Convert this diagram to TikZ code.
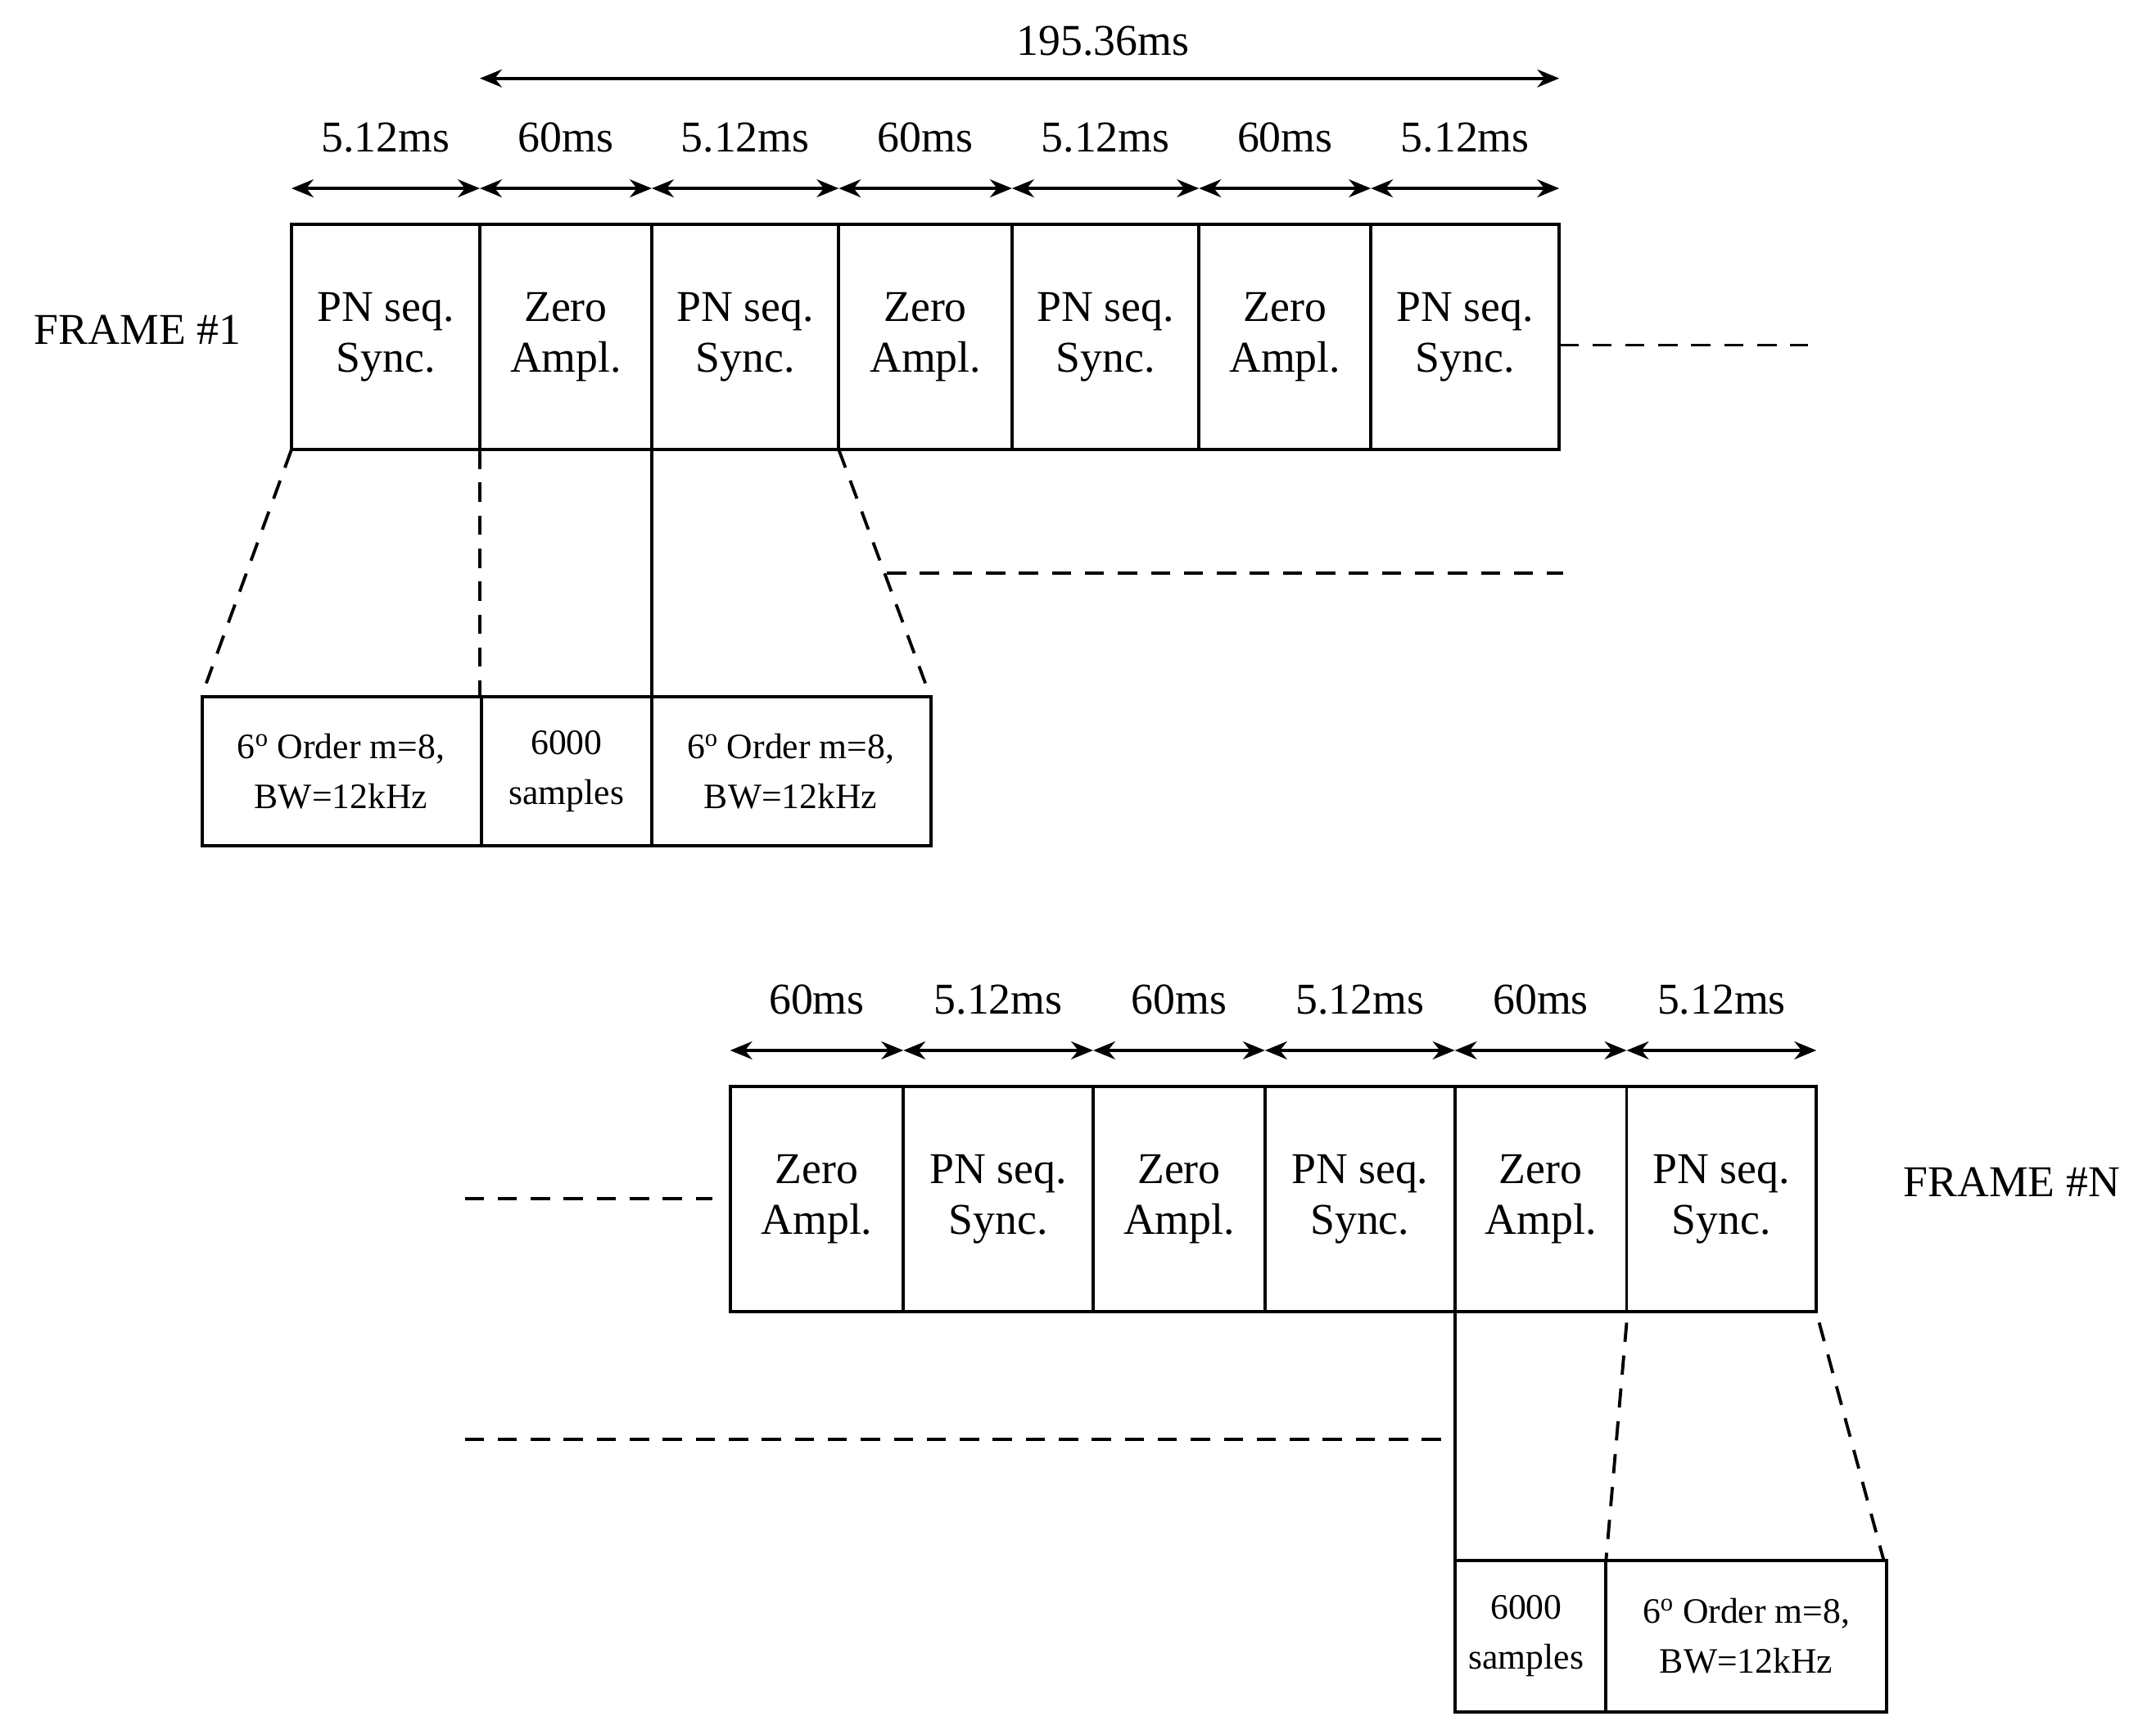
\documentclass[tikz,border=0pt]{standalone}
\usepackage{fontspec}
\setmainfont{Liberation Serif}
\usetikzlibrary{arrows.meta}
\begin{document}
\begin{tikzpicture}[x=1pt,y=-1pt,
  lw/.style={line width=2.3pt},
  cell/.style={lw,draw},
  dsh/.style={lw,dash pattern=on 14pt off 10pt},
  dim/.style={lw,{Stealth[length=16pt,width=13pt]}-{Stealth[length=16pt,width=13pt]}},
  txt/.style={font=\fontsize{32}{37}\selectfont,align=center},
  stxt/.style={font=\fontsize{26}{36}\selectfont,align=center}]
\useasboundingbox (0,0) rectangle (1568,1258);
% Frame 1
\def\ya{163}\def\yb{327}
\foreach \a/\b/\t [count=\i] in {212/349/{PN seq.\\Sync.},349/474/{Zero\\Ampl.},474/610/{PN seq.\\Sync.},610/736/{Zero\\Ampl.},736/872/{PN seq.\\Sync.},872/997/{Zero\\Ampl.},997/1134/{PN seq.\\Sync.}}{
  \draw[cell] (\a,\ya) rectangle (\b,\yb);
  \node[txt] (f1c\i) at ({(\a+\b)/2},245) {\t};
}
\foreach \a/\b/\t [count=\i] in {212/349/5.12ms,349/474/60ms,474/610/5.12ms,610/736/60ms,736/872/5.12ms,872/997/60ms,997/1134/5.12ms}{
  \coordinate (l\i) at (\a,137); \coordinate (r\i) at (\b,137);
  \draw[dim] (l\i) -- (r\i);
  \node[txt] (f1d\i) at ({(\a+\b)/2},100) {\t};
}
\coordinate (tl) at (349,57); \coordinate (tr) at (1134,57);
\draw[dim] (tl) -- (tr);
\node[txt] (tot) at (802,30) {195.36ms};
\node[txt] (fr1) at (100,240) {FRAME \#1};
\draw[dsh] (1134,251) -- (1315,251);
\draw[dsh] (212,327) -- (150,497);
\draw[dsh] (349,327) -- (349,507);
\draw[lw] (474,327) -- (474,507);
\draw[dsh] (610,327) -- (673,497);
\draw[dsh] (645,417) -- (1137,417);
\draw[cell] (147,507) rectangle (350,615);
\draw[cell] (350,507) rectangle (474,615);
\draw[cell] (474,507) rectangle (677,615);
\node[stxt] (s1) at (248,561) {6\textsuperscript{o} Order m=8,\\BW=12kHz};
\node[stxt] (s2) at (412,561) {6000\\samples};
\node[stxt] (s3) at (575,561) {6\textsuperscript{o} Order m=8,\\BW=12kHz};
% Frame N
\foreach \a/\b/\t [count=\i] in {531/657/{Zero\\Ampl.},657/795/{PN seq.\\Sync.},795/920/{Zero\\Ampl.},920/1058/{PN seq.\\Sync.},1058/1183/{Zero\\Ampl.},1183/1321/{PN seq.\\Sync.}}{
  \draw[cell] (\a,790) rectangle (\b,954);
  \node[txt] (fnc\i) at ({(\a+\b)/2},872) {\t};
}
\foreach \a/\b/\t [count=\i] in {531/657/60ms,657/795/5.12ms,795/920/60ms,920/1058/5.12ms,1058/1183/60ms,1183/1321/5.12ms}{
  \coordinate (nl\i) at (\a,764); \coordinate (nr\i) at (\b,764);
  \draw[dim] (nl\i) -- (nr\i);
  \node[txt] (fnd\i) at ({(\a+\b)/2},727) {\t};
}
\node[txt] (frn) at (1463,860) {FRAME \#N};
\draw[dsh] (338,872) -- (518,872);
\draw[lw] (1058,954) -- (1058,1135);
\draw[dsh] (1183,962) -- (1168,1135);
\draw[dsh] (1323,962) -- (1370,1135);
\draw[dsh] (338,1047) -- (1058,1047);
\draw[cell] (1058,1135) rectangle (1168,1245);
\draw[cell] (1168,1135) rectangle (1372,1245);
\node[stxt] (s4) at (1110,1190) {6000\\samples};
\node[stxt] (s5) at (1270,1190) {6\textsuperscript{o} Order m=8,\\BW=12kHz};
\end{tikzpicture}
\end{document}
